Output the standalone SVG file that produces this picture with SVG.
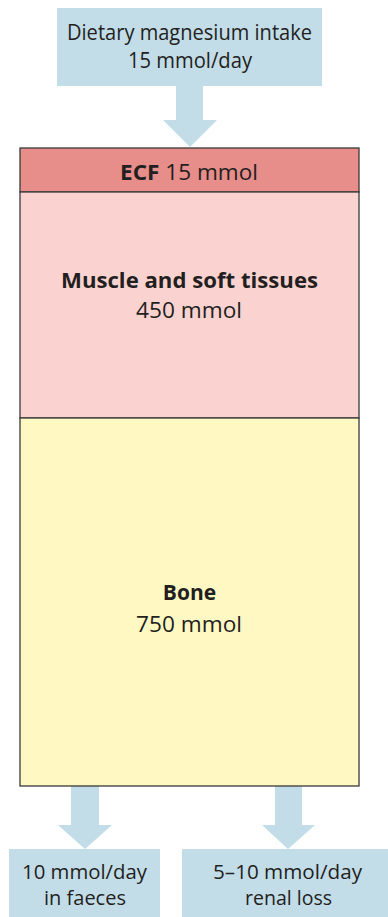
<svg xmlns="http://www.w3.org/2000/svg" width="388" height="917" viewBox="0 0 388 917">
<style>
.t{font-family:"Open Sans","Noto Sans","Liberation Sans",sans-serif;font-size:21px;fill:#231f20;text-anchor:middle}
.s{font-size:20.5px}
.b{font-weight:bold}
.blue{fill:#c2dce8}
.box{stroke:#3a3a3a;stroke-width:1.3}
</style>
<rect width="388" height="917" fill="#fff"/>
<g id="connectors">
<polygon class="blue" points="176,86 203,86 203,120 217,120 190,147 163,120 176,120"/>
<polygon class="blue" points="71,786 99,786 99,825 112,825 85,849 58,825 71,825"/>
<polygon class="blue" points="275,786 302,786 302,825 315,825 288,849 262,825 275,825"/>
</g>
<g id="intake">
<rect class="blue" x="57" y="8" width="265" height="78"/>
<text class="t"><tspan x="189.5" y="40" textLength="245" lengthAdjust="spacingAndGlyphs">Dietary magnesium intake</tspan><tspan x="190" y="68" textLength="124" lengthAdjust="spacingAndGlyphs">15 mmol/day</tspan></text>
</g>
<g id="ecf">
<rect class="box" x="20" y="148" width="339" height="44" fill="#e78d8a"/>
<text class="t" x="189" y="180" textLength="138" lengthAdjust="spacingAndGlyphs"><tspan class="b">ECF</tspan> 15 mmol</text>
</g>
<g id="muscle">
<rect class="box" x="20" y="192" width="339" height="226" fill="#fad3d1"/>
<text class="t"><tspan class="b" x="189.5" y="288" textLength="257" lengthAdjust="spacingAndGlyphs">Muscle and soft tissues</tspan><tspan x="189" y="318" textLength="106" lengthAdjust="spacingAndGlyphs">450 mmol</tspan></text>
</g>
<g id="bone">
<rect class="box" x="20" y="418" width="339" height="368" fill="#fff8c2"/>
<text class="t"><tspan class="b" x="189.5" y="600">Bone</tspan><tspan x="189" y="632" textLength="106" lengthAdjust="spacingAndGlyphs">750 mmol</tspan></text>
</g>
<g id="faeces">
<rect class="blue" x="9" y="849" width="151" height="68"/>
<text class="t s"><tspan x="84.5" y="879" textLength="125" lengthAdjust="spacingAndGlyphs">10 mmol/day</tspan><tspan x="85" y="904.5" textLength="82" lengthAdjust="spacingAndGlyphs">in faeces</tspan></text>
</g>
<g id="renal">
<rect class="blue" x="182" y="849" width="206" height="68"/>
<text class="t s"><tspan x="287.5" y="879" textLength="149" lengthAdjust="spacingAndGlyphs">5–10 mmol/day</tspan><tspan x="288.5" y="904.5" textLength="87" lengthAdjust="spacingAndGlyphs">renal loss</tspan></text>
</g>
</svg>
